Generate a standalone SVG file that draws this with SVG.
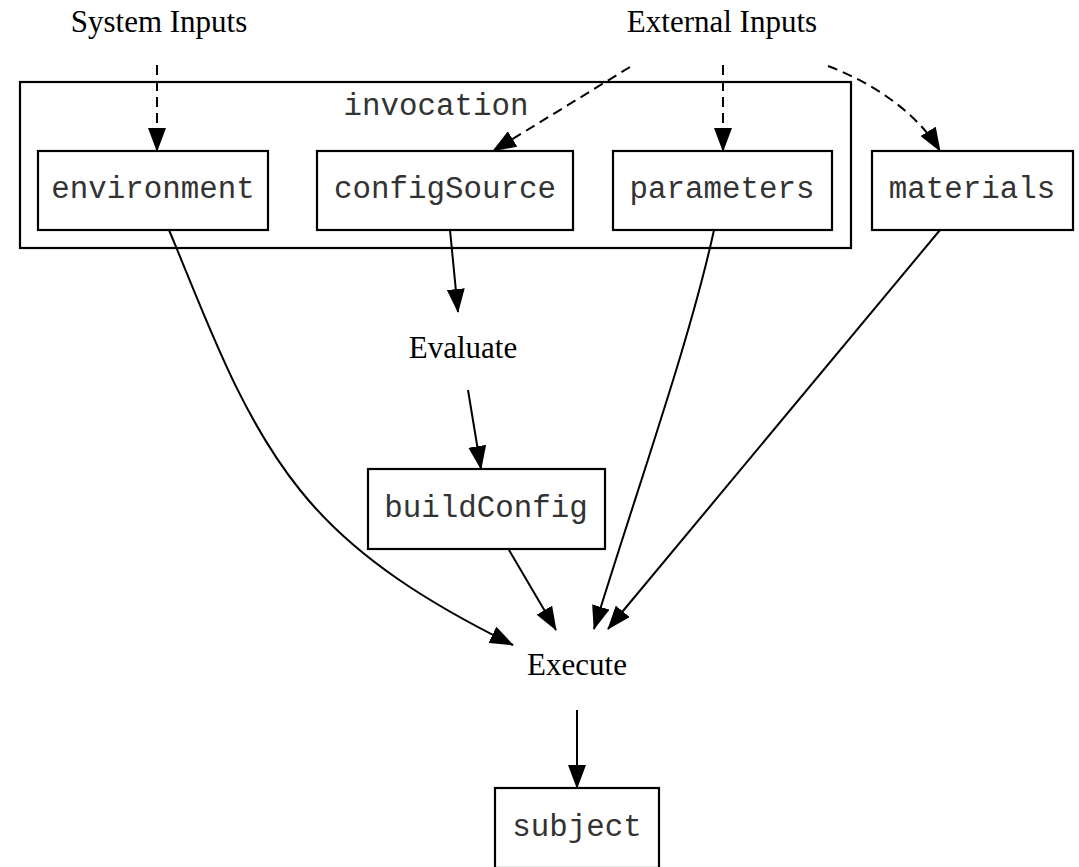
<svg xmlns="http://www.w3.org/2000/svg" width="1079" height="867" viewBox="0 0 1079 867">
<style>
.box{fill:#fff;stroke:#000;stroke-width:2.2}
.cl{fill:none;stroke:#000;stroke-width:2.2}
.mono{font-family:"Liberation Mono","Courier New",monospace;font-size:30.8px;fill:#333;text-anchor:middle}
.serif{font-family:"Liberation Serif","Times New Roman",serif;font-size:31px;fill:#000;text-anchor:middle}
.e{fill:none;stroke:#000;stroke-width:2}
.d{stroke-dasharray:10 6}
</style>
<defs>
<marker id="ah" markerUnits="userSpaceOnUse" viewBox="0 0 24 18" markerWidth="24" markerHeight="18" refX="23" refY="9" orient="auto">
<path d="M0,0 L24,9 L0,18 z" fill="#000"/>
</marker>
</defs>
<rect width="1079" height="867" fill="#fff"/>
<g id="cluster_invocation">
<rect class="cl" x="20" y="82" width="831" height="166"/>
<text class="mono" x="436" y="115">invocation</text>
</g>
<g id="system_inputs"><text class="serif" x="159" y="32">System Inputs</text></g>
<g id="external_inputs"><text class="serif" x="722" y="32">External Inputs</text></g>
<g id="environment"><rect class="box" x="38" y="151" width="230" height="79"/><text class="mono" x="153" y="198">environment</text></g>
<g id="configSource"><rect class="box" x="317" y="151" width="256" height="79"/><text class="mono" x="445" y="198">configSource</text></g>
<g id="parameters"><rect class="box" x="613" y="151" width="219" height="79"/><text class="mono" x="722" y="198">parameters</text></g>
<g id="materials"><rect class="box" x="872" y="151" width="201" height="79"/><text class="mono" x="972" y="198">materials</text></g>
<g id="evaluate"><text class="serif" x="463" y="358">Evaluate</text></g>
<g id="buildConfig"><rect class="box" x="368" y="469" width="237" height="80"/><text class="mono" x="486" y="517">buildConfig</text></g>
<g id="execute"><text class="serif" x="577" y="675">Execute</text></g>
<g id="subject"><rect class="box" x="495" y="788" width="164" height="80"/><text class="mono" x="577" y="836">subject</text></g>
<g id="connectors">
<path class="e d" d="M157,65 L157,151" marker-end="url(#ah)"/>
<path class="e d" d="M630,67 L493,151" marker-end="url(#ah)"/>
<path class="e d" d="M723,65 L723,151" marker-end="url(#ah)"/>
<path class="e d" d="M828,66 C870,82 915,110 940,151" marker-end="url(#ah)"/>
<path class="e" d="M450,230 L458,312" marker-end="url(#ah)"/>
<path class="e" d="M468,390 L481,469" marker-end="url(#ah)"/>
<path class="e" d="M169,230 C206,318 239,414 300,490 C355,559 434,606 513,645" marker-end="url(#ah)"/>
<path class="e" d="M509,550 L556,630" marker-end="url(#ah)"/>
<path class="e" d="M714,230 C690,340 640,480 594,629" marker-end="url(#ah)"/>
<path class="e" d="M940,230 L608,629" marker-end="url(#ah)"/>
<path class="e" d="M577,710 L577,788" marker-end="url(#ah)"/>
</g>
</svg>
